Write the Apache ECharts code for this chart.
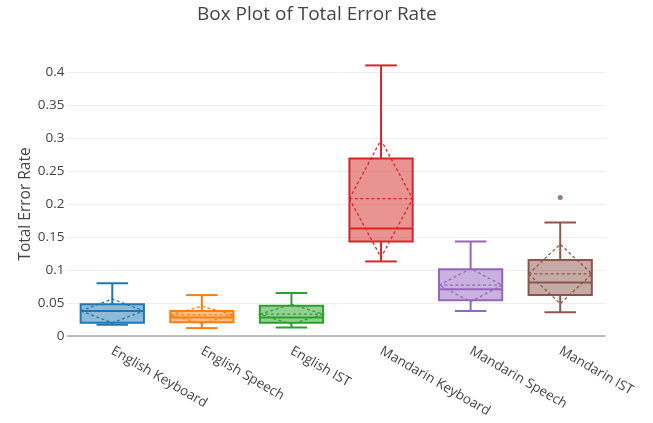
<!DOCTYPE html>
<html><head><meta charset="utf-8">
<script src="https://cdn.jsdelivr.net/npm/echarts@6/dist/echarts.min.js"></script>
<style>html,body{margin:0;padding:0;background:#fff}#c{width:653px;height:423px}</style>
</head><body><div id="c"></div>
<script>
const categories = ['English Keyboard', 'English Speech', 'English IST', 'Mandarin Keyboard', 'Mandarin Speech', 'Mandarin IST'];
const colors = ['#1f77b4', '#ff7f0e', '#2ca02c', '#d62728', '#9467bd', '#8c564b'];
const lowerWhisker = [0.017, 0.012, 0.013, 0.113, 0.038, 0.036];
const q1 = [0.020, 0.021, 0.020, 0.143, 0.054, 0.062];
const median = [0.038, 0.028, 0.028, 0.163, 0.071, 0.081];
const q3 = [0.048, 0.038, 0.046, 0.269, 0.101, 0.115];
const upperWhisker = [0.080, 0.062, 0.065, 0.410, 0.143, 0.172];
const mean = [0.038, 0.032, 0.033, 0.208, 0.077, 0.094];
const sd = [0.018, 0.013, 0.015, 0.089, 0.025, 0.045];
const outliers = [[5, 0.210]];

function rgba(hex, a) {
  const n = parseInt(hex.slice(1), 16);
  return 'rgba(' + (n >> 16 & 255) + ',' + (n >> 8 & 255) + ',' + (n & 255) + ',' + a + ')';
}

const boxData = categories.map((c, i) => [i, lowerWhisker[i], q1[i], median[i], q3[i], upperWhisker[i], mean[i], sd[i]]);

function renderItem(params, api) {
  const i = api.value(0);
  const c = colors[i];
  const band = api.size([1, 0])[0];
  const half = band * 0.353;
  const cap = half / 2;
  const x = api.coord([i, 0])[0];
  const y = v => api.coord([i, v])[1];
  const yMin = y(api.value(1)), yQ1 = y(api.value(2)), yMed = y(api.value(3)),
        yQ3 = y(api.value(4)), yMax = y(api.value(5)), yMean = y(api.value(6));
  const yHi = y(api.value(6) + api.value(7)), yLo = y(api.value(6) - api.value(7));
  const solid = { stroke: c, lineWidth: 2, fill: null };
  const dash = { stroke: c, lineWidth: 1.3, lineDash: [3, 2.5], fill: null };
  return {
    type: 'group',
    children: [
      { type: 'line', shape: { x1: x, y1: yQ3, x2: x, y2: yMax }, style: solid },
      { type: 'line', shape: { x1: x, y1: yQ1, x2: x, y2: yMin }, style: solid },
      { type: 'line', shape: { x1: x - cap, y1: yMax, x2: x + cap, y2: yMax }, style: solid },
      { type: 'line', shape: { x1: x - cap, y1: yMin, x2: x + cap, y2: yMin }, style: solid },
      { type: 'rect', shape: { x: x - half, y: yQ3, width: half * 2, height: yQ1 - yQ3 },
        style: { fill: rgba(c, 0.5), stroke: c, lineWidth: 2 } },
      { type: 'line', shape: { x1: x - half, y1: yMed, x2: x + half, y2: yMed }, style: solid },
      { type: 'polygon', shape: { points: [[x - half, yMean], [x, yHi], [x + half, yMean], [x, yLo]] }, style: dash },
      { type: 'line', shape: { x1: x - half, y1: yMean, x2: x + half, y2: yMean }, style: dash }
    ]
  };
}

const chart = echarts.init(document.getElementById('c'), null, { renderer: 'canvas' });
chart.setOption({
  animation: false,
  backgroundColor: '#fff',
  textStyle: { fontFamily: 'Open Sans', color: '#444' },
  title: {
    text: 'Box Plot of Total Error Rate',
    left: 192, top: 0,
    textStyle: { fontFamily: 'Open Sans', fontSize: 19, fontWeight: 'normal', color: '#444' }
  },
  grid: { left: 67.5, right: 48, top: 72, bottom: 87, containLabel: false },
  xAxis: {
    type: 'category',
    data: categories,
    boundaryGap: true,
    axisLine: { show: true, lineStyle: { color: '#aaa', width: 1.5 } },
    axisTick: { show: false },
    splitLine: { show: false },
    axisLabel: { rotate: -30, margin: 14, fontSize: 13.5, color: '#444', fontFamily: 'Open Sans', interval: 0 }
  },
  yAxis: {
    type: 'value',
    min: 0, max: 0.4, interval: 0.05,
    name: 'Total Error Rate',
    nameLocation: 'middle',
    nameGap: 34,
    nameMoveOverlap: false,
    nameTextStyle: { fontSize: 15.5, color: '#444', fontFamily: 'Open Sans' },
    axisLine: { show: false },
    axisTick: { show: false },
    axisLabel: { fontSize: 13.5, color: '#444', margin: 3, fontFamily: 'Open Sans' },
    splitLine: { show: true, lineStyle: { color: '#eee', width: 1 } }
  },
  series: [
    { type: 'custom', renderItem: renderItem, data: boxData, encode: { x: 0, y: [1, 2, 3, 4, 5] }, clip: false, z: 3 },
    { type: 'scatter', data: outliers, symbolSize: 5, itemStyle: { color: colors[5] }, z: 4 }
  ]
});
</script></body></html>
